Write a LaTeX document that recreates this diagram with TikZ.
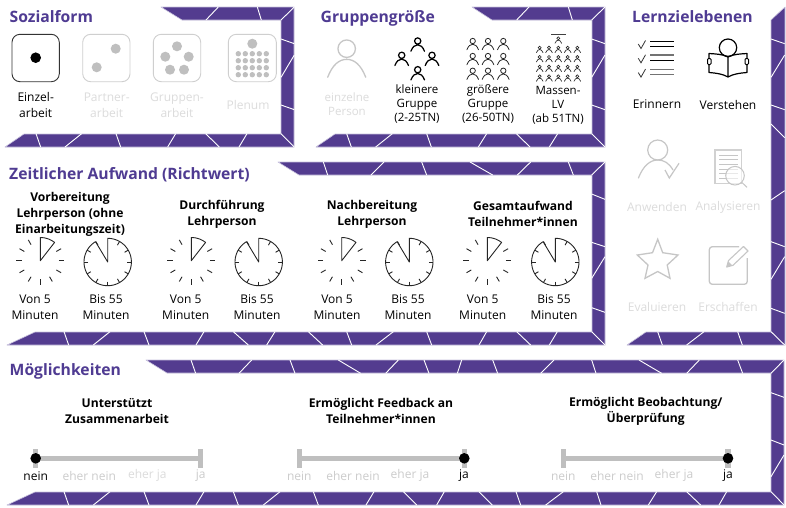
\documentclass[tikz,border=0pt]{standalone}
\usepackage{fontspec}
\setmainfont{Open Sans}
\definecolor{band}{HTML}{533C8F}
\definecolor{bandedge}{HTML}{C8C2DE}
\definecolor{titlec}{HTML}{4F3B92}
\definecolor{ico}{HTML}{C6C6C6}
\definecolor{dot}{HTML}{BFBFBF}
\definecolor{faint}{HTML}{DCDCDC}
\definecolor{faintb}{HTML}{CCCCCC}
\tikzset{
  bandshape/.style={fill=band,draw=bandedge,line width=.6pt,line join=round},
  crack/.style={draw=white,line width=.9pt},
  ttl/.style={font=\fontsize{15.7}{18}\selectfont\bfseries,text=titlec,anchor=base west,inner sep=0pt},
  lab/.style={font=\fontsize{12}{15.8}\selectfont,align=center,inner sep=0pt,text=black},
  labg/.style={lab,text=faint},
  labs/.style={font=\fontsize{11.5}{14}\selectfont,align=center,inner sep=0pt,text=black},
  labsg/.style={labs,text=faint},
  head/.style={font=\fontsize{12.1}{16.2}\selectfont\bfseries,align=center,inner sep=0pt,text=black},
  die/.style={draw=#1,line width=.9pt,rounded corners=8pt,fill=white},
  gico/.style={draw=ico,line width=1.2pt},
  bico/.style={draw=black,line width=1.2pt},
  scl/.style={draw=dot,line width=5.5pt},
  clockline/.style={draw=black!85,line width=.9pt,line join=round},
}
\newcommand\cracks[3]{\begin{scope}[shift={(#1,#2)},x=.33333pt,y=-.33333pt]
  \foreach \a/\b/\c/\d in {#3}{\draw[crack] (\a,\b)--(\c,\d);}
\end{scope}}
\newcommand\pers[5]{\begin{scope}[shift={(#1,#2)},x=#3pt,y=-#3pt]
  \draw[draw=#4,line width=#5pt,line cap=round] (0,0) circle[radius=.46]
    (-1,1.5) .. controls (-.75,.85) and (-.4,.56) .. (0,.56) .. controls (.4,.56) and (.75,.85) .. (1,1.5);
\end{scope}}
\newcommand\clockA[2]{\begin{scope}[shift={(#1,#2)}]
  \draw[clockline] (0,0) -- plot[domain=-90:-52,samples=10] (\x:23.2) -- cycle;
  \foreach \t in {-30,0,30,60,90,120,150,180,210,240}{\draw[clockline] (\t:18.5) -- (\t:24);}
\end{scope}}
\newcommand\clockB[2]{\begin{scope}[shift={(#1,#2)}]
  \draw[clockline] (0,0) -- plot[domain=-90:239,samples=70] (\x:23.7) -- cycle;
  \foreach \t in {-60,-30,0,30,60,90,120,150,180,210,240}{\draw[clockline] (\t:19.5) -- (\t:23.7);}
\end{scope}}
\newcommand\sctick[2]{\draw[scl] (#1,449) -- (#1,468.3); \draw[scl] (#2,449) -- (#2,468.3); \draw[scl] (#1,458.3) -- (#2,458.3);}
\begin{document}
\begin{tikzpicture}[x=1pt,y=-1pt]
\useasboundingbox (0,0) rectangle (786,507);
\fill[white] (0,0) rectangle (786,507);

% ---------- frames
\draw[bandshape] (161,7) -- (294,7) -- (294,147) -- (5,147) -- (24,134) -- (281,134) -- (281,20) -- (182,20) -- cycle;
\cracks{0}{0}{655/21/618/60,772/21/784/60,883/21/843/60,843/117/883/131,883/165/843/232,843/315/883/329,108/401/122/441,245/401/195/441,348/401/362/441,527/401/503/441,617/401/658/441,741/401/717/441,843/401/883/441}

\draw[bandshape] (472,7) -- (605,7) -- (605,147) -- (316,147) -- (335,134) -- (592,134) -- (592,20) -- (492,20) -- cycle;
\cracks{305}{0}{672/21/635/60,790/21/802/60,900/21/860/60,860/117/900/131,900/165/860/232,860/315/900/329,125/401/139/441,262/401/212/441,365/401/379/441,545/401/520/441,634/401/675/441,758/401/733/441,860/401/900/441}

\draw[bandshape] (785,7) -- (785,345) -- (627,345) -- (646,332) -- (771,332) -- (771,20) -- cycle;
\cracks{610}{0}{483/117/524/131,524/165/483/232,483/315/524/329,483/372/524/413,524/572/483/600,483/725/524/740,524/770/483/838,483/925/524/940,143/995/157/1035,282/995/230/1035,383/995/397/1035,483/995/524/1035}

\draw[bandshape] (278,162) -- (605,162) -- (605,345) -- (7,345) -- (35,332) -- (592,332) -- (592,175) -- (299,175) -- cycle;
\cracks{0}{155}{192/530/206/570,330/530/280/570,432/530/447/570,612/530/588/570,700/530/745/570,825/530/800/570}
\cracks{300}{155}{70/21/83/60,252/21/213/60,365/21/380/60,510/21/578/60,692/21/652/60,805/21/820/60,915/21/875/60,875/117/915/133,875/262/915/275,915/305/875/370,875/458/915/472,25/530/68/570,140/530/155/570,280/530/228/570,380/530/395/570,560/530/537/570,650/530/692/570,772/530/748/570,875/530/915/570}

\draw[bandshape] (146,360) -- (784,360) -- (784,505) -- (7,505) -- (35,492) -- (771,492) -- (771,373) -- (167,373) -- cycle;
\cracks{0}{350}{573/30/587/70,755/30/717/70,870/30/885/70,1015/30/1082/70,1195/30/1157/70,192/425/206/465,330/425/280/465,432/425/447/465,612/425/588/465,700/425/715/465,840/425/790/465,940/425/955/465,1122/425/1098/465}
\cracks{400}{350}{72/30/87/70,185/30/172/70,278/30/293/70,462/30/422/70,575/30/588/70,717/30/785/70,898/30/860/70,1013/30/1028/70,1152/30/1113/70,1113/128/1152/142,1113/270/1152/285,1152/315/1113/380,10/425/50/465,133/425/110/465,237/425/277/465,348/425/362/465,490/425/437/465,590/425/603/465,770/425/745/465,860/425/902/465,980/425/957/465,1113/425/1152/465}

% ---------- titles
\node[ttl] (tsozial) at (9.5,22.7) {Sozialform};
\node[ttl] (tgruppe) at (320.5,22.7) {Gruppengröße};
\node[ttl] (tlern) at (632,22.7) {Lernzielebenen};
\node[ttl] (tzeit) at (9,179) {Zeitlicher Aufwand (Richtwert)};
\node[ttl] (tmoeg) at (9.5,375.7) {Möglichkeiten};

% ---------- Sozialform
\draw[die=black!80] (12,34.3) rectangle (59.3,81.7);
\fill[black] (35.7,57.7) circle[radius=5.3];
\draw[die=ico!85] (82.7,34.3) rectangle (130,81.7);
\foreach \p in {(115.7,48.7),(96.7,67.3)} \fill[dot] \p circle[radius=5];
\draw[die=ico!85] (153.3,34.3) rectangle (200.7,81.7);
\foreach \p in {(177,46.3),(165.3,56.7),(188.7,56.7),(170,69.7),(184,69.7)} \fill[dot] \p circle[radius=5];
\draw[die=ico!85] (228.3,34.3) rectangle (276.3,81.7);
\fill[dot] (252.3,43.7) circle[radius=5];
\foreach \cx in {238.3,245.3,252.3,259.3,266.3}
  \foreach \cy in {53.7,60.7,67.7,74.7} \fill[dot] (\cx,\cy) circle[radius=2.7];
\node[lab] (einzel) at (35.7,105) {Einzel-\\arbeit};
\node[labg] (partner) at (106.7,105) {Partner-\\arbeit};
\node[labg] (gruppen) at (177,105) {Gruppen-\\arbeit};
\node[labg] (plenum) at (248,105) {Plenum};

% ---------- Gruppengroesse
\pers{346.7}{48.7}{19}{ico}{1.3}
\foreach \px/\py in {417.7/41,401.7/55.3,432/55.3,417.7/69.7} {\pers{\px}{\py}{6.8}{black}{1.25}}
\foreach \px in {472.7,488,503.3} \foreach \py in {41,56,70.7} {\pers{\px}{\py}{5.8}{black!85}{.8}}
\foreach \px in {539.7,549,558.3,567.7,577.3} \foreach \py in {47.7,57,66.7,76.3} {\pers{\px}{\py}{3.3}{black!85}{.65}}
\pers{558.3}{38.3}{3.3}{black!85}{.65}
\draw[draw=black!75,line width=1pt] (551,34.3) -- (565.7,34.3);
\node[labsg] (einzelne) at (347,104.5) {einzelne\\Person};
\node[labs] (kleinere) at (417,104.5) {kleinere\\Gruppe\\(2-25TN)};
\node[labs] (groessere) at (488,104.5) {größere\\Gruppe\\(26-50TN)};
\node[labs] (massen) at (558,105) {Massen-\\LV\\(ab 51TN)};

% ---------- Lernzielebenen
\foreach \dy in {0,14.3,28.6} {\draw[draw=black!80,line width=.8pt] (638.3,44+\dy) -- (641,48.5+\dy) -- (645.5,40.5+\dy);}
\draw[draw=black,line width=.8pt] (650,41) -- (674,41) (650,46.3) -- (674,46.3) (650,60.3) -- (674,60.3);
\draw[draw=black!55,line width=1.1pt] (650,55) -- (674,55) (650,69.3) -- (674,69.3) (650,74.7) -- (674,74.7);
\draw[bico] (728,47.7) circle[radius=8.7];
\draw[bico,line join=round] (728,57) .. controls (722,54) and (716,54) .. (709,53.5) -- (709,72.5) .. controls (716,73) and (723,74) .. (728,77) .. controls (733,74) and (740,73) .. (747,72.5) -- (747,53.5) .. controls (740,54) and (734,54) .. (728,57) -- cycle (728,57) -- (728,77);
\draw[bico,rounded corners=1pt,fill=white,line width=1pt] (707.5,58.5) rectangle (711,64.5);
\draw[bico,rounded corners=1pt,fill=white,line width=1pt] (745,58.5) rectangle (748.5,64.5);
\node[lab] (erinnern) at (657,104.5) {Erinnern};
\node[lab] (verstehen) at (728,104.5) {Verstehen};
% Anwenden
\draw[gico] (657.7,150) circle[radius=10];
\draw[gico] (638.3,178.3) .. controls (643,166) and (650,160) .. (657.7,160) .. controls (664,160) and (669,163) .. (673,170);
\draw[gico] (665,170) -- (669.3,178) -- (679,163.3);
\node[labg] (anwenden) at (657,207) {Anwenden};
% Analysieren
\draw[gico,line width=1.4pt,draw=ico!80] (715,150) -- (741.7,150) -- (741.7,183.3) -- (715,183.3) -- cycle;
\foreach \ly in {155,159.7,164.3,169,173.7,178.3} {\draw[draw=ico,line width=.7pt] (719,\ly) -- (738,\ly);}
\draw[gico,fill=white,fill opacity=.6,line width=1pt] (735,175.7) circle[radius=9.3];
\draw[gico,line width=1pt] (741.7,182.3) -- (747,187.3);
\node[labg] (analysieren) at (728,207) {Analysieren};
% Evaluieren
\draw[gico,line width=1.3pt,line join=miter] (657.7,239.3) -- (662.7,252.7) -- (678,255) -- (667.2,265) -- (670,278.3) -- (657.7,271.5) -- (645,278.3) -- (648,265) -- (637.3,255) -- (652.5,252.7) -- cycle;
\node[labg] (evaluieren) at (657,307.3) {Evaluieren};
% Erschaffen
\draw[gico,rounded corners=3pt,line width=1.3pt] (739,246.7) -- (709.3,246.7) -- (709.3,284.3) -- (747.3,284.3) -- (747.3,258);
\draw[gico,line width=1.1pt,line join=round,fill=white] (726.7,267) -- (728.5,260.5) -- (743.5,246.5) -- (748,251) -- (733,265.3) -- cycle;
\fill[ico] (726.7,267) -- (728.2,261.3) -- (732.5,265.5) -- cycle;
\node[labg] (erschaffen) at (728,307.3) {Erschaffen};

% ---------- Zeitlicher Aufwand
\node[head] (hvor) at (70,214.3) {Vorbereitung\\Lehrperson (ohne\\Einarbeitungszeit)};
\node[head] (hdurch) at (222,214) {Durchführung\\Lehrperson};
\node[head] (hnach) at (372,214) {Nachbereitung\\Lehrperson};
\node[head] (hges) at (523,214) {Gesamtaufwand\\Teilnehmer*innen};
\clockA{40.3}{260.7}\clockB{107.7}{262}
\clockA{191.3}{260.7}\clockB{258.7}{262}
\clockA{341.7}{260.7}\clockB{409.3}{262}
\clockA{487.3}{260.7}\clockB{555.3}{262}
\node[lab] (v1) at (35,307.5) {Von 5\\Minuten};
\node[lab] (b1) at (106,307.5) {Bis 55\\Minuten};
\node[lab] (v2) at (185.7,307.5) {Von 5\\Minuten};
\node[lab] (b2) at (257,307.5) {Bis 55\\Minuten};
\node[lab] (v3) at (337,307.5) {Von 5\\Minuten};
\node[lab] (b3) at (408,307.5) {Bis 55\\Minuten};
\node[lab] (v4) at (482.7,307.5) {Von 5\\Minuten};
\node[lab] (b4) at (554,307.5) {Bis 55\\Minuten};

% ---------- Moeglichkeiten
\node[head] (hunter) at (117,411) {Unterstützt\\Zusammenarbeit};
\node[head] (hfeed) at (381,411) {Ermöglicht Feedback an\\Teilnehmer*innen};
\node[head] (hbeob) at (645.7,411) {Ermöglicht Beobachtung/\\Überprüfung};
\sctick{35.7}{200.7}
\sctick{299.3}{464.3}
\sctick{563.3}{728}
\fill[black] (35.7,458.3) circle[radius=5.3];
\fill[black] (464.3,458.3) circle[radius=5.3];
\fill[black] (728,458.3) circle[radius=5.3];
\tikzset{sl/.style={lab,text=faintb}}
\node[lab] (n1) at (35.7,475.7) {nein};
\node[sl] (en1) at (89.3,475.7) {eher nein};
\node[sl,text=faint] (ej1) at (147.3,475.7) {eher ja};
\node[sl] (j1) at (200.7,475.7) {ja};
\node[sl] (n2) at (299.3,475.7) {nein};
\node[sl] (en2) at (353,475.7) {eher nein};
\node[sl] (ej2) at (410,475.7) {eher ja};
\node[lab] (j2) at (464,475.7) {ja};
\node[sl] (n3) at (563.3,475.7) {nein};
\node[sl] (en3) at (617,475.7) {eher nein};
\node[sl] (ej3) at (674,475.7) {eher ja};
\node[lab] (j3) at (728,475.7) {ja};
\end{tikzpicture}
\end{document}
